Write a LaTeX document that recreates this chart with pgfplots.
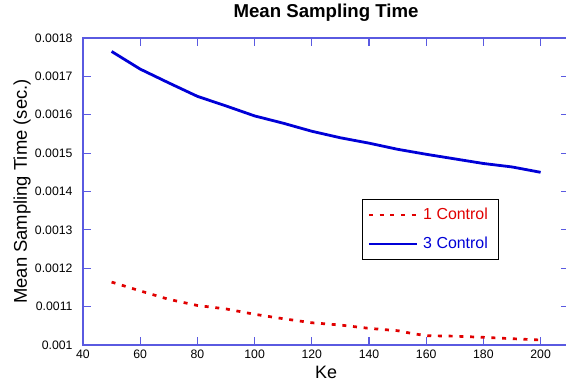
\documentclass[border=0pt]{standalone}
\usepackage{pgfplots}
\pgfplotsset{compat=1.18}
\usepackage{fontspec}
\setmainfont{Liberation Sans}
\usetikzlibrary{calc}
\definecolor{axblue}{RGB}{90,90,225}
\definecolor{lineblue}{RGB}{0,0,215}
\definecolor{linered}{RGB}{225,0,0}
\begin{document}
\begin{tikzpicture}
\begin{axis}[
  scale only axis,
  width=486.2bp, height=307bp,
  xmin=40, xmax=210, ymin=0.001, ymax=0.0018,
  xtick={40,60,...,200},
  ytick={0.001,0.0011,0.0012,0.0013,0.0014,0.0015,0.0016,0.0017,0.0018},
  scaled y ticks=false,
  yticklabel style={/pgf/number format/fixed, /pgf/number format/precision=4, xshift=-7bp},
  xticklabel style={yshift=-1bp},
  /pgf/number format/assume math mode=true,
  tick label style={font=\fontsize{12.3}{14}\selectfont, text=black},
  tick align=inside, tick pos=both,
  major tick length=8bp,
  axis line style={axblue, line width=1.2bp},
  every tick/.style={axblue, line width=1.2bp},
  title={\textbf{Mean Sampling Time}},
  title style={at={(axis description cs:0.5,1)}, anchor=base, yshift=15bp, font=\fontsize{18.7}{20}\selectfont},
  xlabel={Ke},
  xlabel style={at={(axis description cs:0.5,0)}, anchor=base, yshift=-33bp, font=\fontsize{18}{20}\selectfont},
  ylabel={Mean Sampling Time (sec.)},
  ylabel style={at={(axis description cs:0,0.5)}, anchor=base, yshift=56bp, font=\fontsize{18.5}{20}\selectfont},
  legend style={at={(axis description cs:0.5739,0.4756)}, anchor=north west,
    draw=black, line width=0.8bp, inner xsep=5bp, inner ysep=7bp,
    font=\fontsize{16}{18}\selectfont, row sep=12bp,
    cells={anchor=west}},
  legend cell align=left,
  legend image code/.code={\draw[#1] (0bp,0bp) -- (48bp,0bp);},
  every axis legend/.append style={nodes={inner xsep=5bp}},
]
\addplot[linered, line width=2.7bp, dash pattern=on 4bp off 6.7bp] coordinates {
(50,0.001164) (60,0.001141) (70,0.001119) (80,0.001103) (90,0.001094)
(100,0.001080) (110,0.0010685) (120,0.001058) (130,0.001052) (140,0.0010434)
(150,0.0010373) (155,0.00103) (160,0.0010243) (170,0.001023) (180,0.00102)
(190,0.0010164) (200,0.001013)};
\addlegendentry{\textcolor{linered}{1 Control}}
\addplot[lineblue, line width=2.8bp] coordinates {
(50,0.001765) (60,0.001719) (70,0.001683) (80,0.001648) (90,0.001623)
(100,0.001597) (110,0.001578) (120,0.001557) (130,0.00154) (140,0.001526)
(150,0.00151) (160,0.001497) (170,0.001485) (180,0.001473) (190,0.001464) (200,0.00145)};
\addlegendentry{\textcolor{lineblue}{3 Control}}
\end{axis}
\pgfresetboundingbox
\path[use as bounding box] ($(current axis.south west)+(-83bp,-36bp)$) rectangle ($(current axis.south west)+(483bp,345bp)$);
\end{tikzpicture}
\end{document}
